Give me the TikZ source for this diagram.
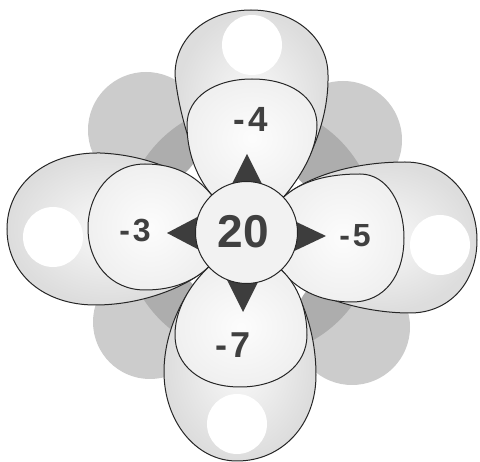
\documentclass[tikz,border=0pt]{standalone}
\usepackage{fontspec}
\setmainfont{Liberation Sans}
\begin{document}
\begin{tikzpicture}[x=1pt,y=-1pt,
  blob/.style={fill=gray!40},
  ring/.style={fill=gray!64},
  outerpetal/.style={draw=black!85, line width=1pt, shade, shading=radial, inner color=gray!4, outer color=gray!27},
  innerlobe/.style={draw=black!85, line width=1pt, shade, shading=radial, inner color=gray!2, outer color=gray!12},
  hole/.style={fill=white},
  arrowtri/.style={fill=black!76},
  hub/.style={draw=black!85, line width=1pt, fill=gray!10},
  numlabel/.style={text=black!75, inner sep=0pt, font=\bfseries\fontsize{33}{36}\selectfont}
]
\useasboundingbox (0,0) rectangle (480,462);
\fill[white] (0,0) rectangle (480,462);

% background blobs
\fill[blob] (146,130) circle[radius=58pt];
\fill[blob] (343,140) circle[radius=59pt];
\fill[blob] (352,327) circle[radius=58pt];
\fill[blob] (150,322) circle[radius=57pt];
\begin{scope}
  \clip (146,130) circle[radius=58pt] (343,140) circle[radius=59pt]
        (352,327) circle[radius=58pt] (150,322) circle[radius=57pt];
  \fill[ring] (250,230) circle[radius=127pt];
\end{scope}

\coordinate (C) at (246.5,232.5);
\coordinate (JNW) at (211.8,195.1);
\coordinate (JNE) at (283.4,197.3);
\coordinate (JSE) at (281.2,269.9);
\coordinate (JSW) at (208.8,266.8);

% top petal
\path[outerpetal] (JNW) .. controls (200,172) and (180,125) .. (175,75)
  .. controls (175,35) and (210,10) .. (251,10)
  .. controls (295,10) and (328,38) .. (328,75)
  .. controls (329,122) and (308,167) .. (JNE) -- cycle;
\fill[hole] (252,45) circle[radius=30pt];
\path[innerlobe] (JNW) .. controls (195,175) and (187,150) .. (187,125)
  .. controls (187,97) and (215,79) .. (252,79)
  .. controls (290,79) and (317,97) .. (317,125)
  .. controls (317,152) and (298,180) .. (JNE) -- cycle;

% left petal
\path[outerpetal] (JNW) .. controls (190,175) and (150,155) .. (100,153)
  .. controls (45,152) and (7,185) .. (7,229)
  .. controls (7,275) and (45,305) .. (95,305)
  .. controls (145,305) and (190,285) .. (JSW) -- cycle;
\fill[hole] (53,237) circle[radius=30pt];
\path[innerlobe] (JNW) .. controls (195,175) and (175,164) .. (145,164)
  .. controls (110,164) and (88,195) .. (88,228)
  .. controls (88,262) and (110,290) .. (145,290)
  .. controls (175,290) and (195,280) .. (JSW) -- cycle;

% right petal
\path[outerpetal] (JNE) .. controls (305,178) and (350,162) .. (405,162)
  .. controls (450,162) and (477,200) .. (477,240)
  .. controls (477,282) and (450,313) .. (410,313)
  .. controls (360,313) and (305,295) .. (JSE) -- cycle;
\fill[hole] (440,245) circle[radius=30pt];
\path[innerlobe] (JNE) .. controls (300,182) and (325,174) .. (360,174)
  .. controls (388,174) and (404,205) .. (404,238)
  .. controls (404,275) and (385,302) .. (352,302)
  .. controls (318,302) and (295,288) .. (JSE) -- cycle;

% bottom petal
\path[outerpetal] (JSE) .. controls (300,290) and (316,330) .. (316,375)
  .. controls (316,425) and (282,461) .. (237,461)
  .. controls (195,461) and (164,420) .. (164,372)
  .. controls (164,330) and (185,290) .. (JSW) -- cycle;
\fill[hole] (237,424) circle[radius=30pt];
\path[innerlobe] (JSE) .. controls (298,285) and (307,310) .. (307,335)
  .. controls (307,365) and (280,387) .. (240,387)
  .. controls (200,387) and (175,365) .. (175,335)
  .. controls (175,305) and (195,280) .. (JSW) -- cycle;

% triangles
\fill[arrowtri] (247,154) -- (266,192) -- (228,192) -- cycle;
\fill[arrowtri] (167,233) -- (205,213) -- (205,253) -- cycle;
\fill[arrowtri] (326,236) -- (288,218) -- (288,254) -- cycle;
\fill[arrowtri] (243,312) -- (224,274) -- (262,274) -- cycle;

% hub
\path[hub] (C) circle[radius=51pt];

% labels
\node[numlabel, font=\bfseries\fontsize{46}{50}\selectfont] (n20) at (243.5,231.5) {20};
\node[numlabel, font=\bfseries\fontsize{35}{38}\selectfont] (n4) at (250.5,119.5) {-\kern3pt 4};
\node[numlabel, font=\bfseries\fontsize{32}{35}\selectfont] (n3) at (135,231) {-\kern3pt 3};
\node[numlabel, font=\bfseries\fontsize{32}{35}\selectfont] (n5) at (355,236) {-\kern3pt 5};
\node[numlabel, font=\bfseries\fontsize{36}{39}\selectfont] (n7) at (233.5,345) {-\kern3pt 7};
\end{tikzpicture}
\end{document}
